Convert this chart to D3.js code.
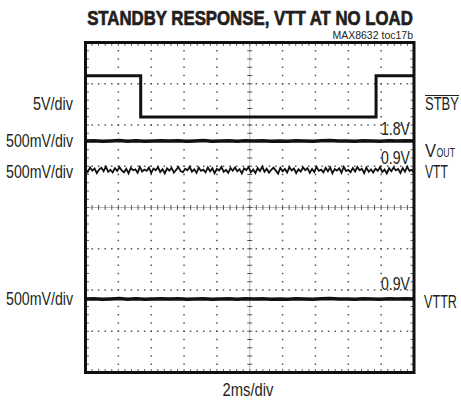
<!DOCTYPE html>
<html><head><meta charset="utf-8">
<script src="https://cdn.jsdelivr.net/npm/d3@7"></script>
<style>
html,body{margin:0;padding:0;background:#fff;}
svg{display:block;}
text{fill:#231f20;}
</style></head>
<body>
<script>
// ---- data ----
const title = "STANDBY RESPONSE, VTT AT NO LOAD";
const subtitle = "MAX8632 toc17b";
const timeDomainMs = [0, 20];          // 2ms/div, 10 divisions
const divDomain = [-4, 4];             // 8 vertical divisions
const leftLabels = ["5V/div", "500mV/div", "500mV/div", "500mV/div"];
const rightLabels = ["STBY", "VOUT", "VTT", "VTTR"];
const markerLabels = ["1.8V", "0.9V", "0.9V"];
const xLabel = "2ms/div";

// channel scale (V/div) and ground position (div from centre)
const chScale  = [5, 0.5, 0.5, 0.5];
const chGround = [2.194, -1.988, -0.891, -4.018];

// STBY (V)
const stbyT = [0, 3.36, 3.36, 17.69, 17.69, 20];
const stbyV = [5, 5, 0, 0, 5, 5];

// VOUT (V)
const voutV = [1.800,1.803,1.797,1.801,1.805,1.798,1.802,1.796,1.800,1.804,1.799,1.802,1.797,1.801,1.806,1.798,1.800,1.803,1.797,1.802,1.799,1.804,1.798,1.801,1.796,1.803,1.800,1.797,1.802,1.805,1.799,1.801,1.798,1.803,1.800,1.797,1.802,1.799,1.804,1.800];

// VTT (mV)
const vttMv = [912,875,931,892,918,862,905,927,885,940,878,903,870,922,888,935,895,872,914,860,926,897,909,867,938,882,906,890,929,864,917,898,933,876,911,858,920,893,925,869,902,936,886,874,915,896,939,880,908,865,928,889,904,871,932,884,921,861,913,894,937,877,901,866,924,891,930,883,910,859,919,899,934,873,907,863,923,887,941,879,916,868,903,928,892,856,926,885,912,870,935,895,918,862,909,881,931,898,922,865,914,876,938,890,905,872,927,884,933,860,911,893,920,867,939,888,902,874,925,882,936,896,915,863,929,878,908,869,917,891,934,875,906,858,921,886,930,897,913,864,924,880,940,889,901,871];

// VTTR (V)
const vttrV = [0.900,0.903,0.897,0.901,0.905,0.898,0.902,0.896,0.900,0.904,0.899,0.902,0.897,0.901,0.904,0.898,0.900,0.903,0.897,0.902,0.899,0.904,0.898,0.901,0.896,0.903,0.900,0.897,0.902,0.905,0.899,0.901,0.898,0.903,0.900,0.897,0.902,0.899,0.904,0.900];

// ---- layout ----
const W = 461, H = 414;
const L = 85.5, R = 414, T = 42.5, B = 372.5;
const svg = d3.select("body").append("svg").attr("width", W).attr("height", H);
const x = d3.scaleLinear().domain(timeDomainMs).range([L, R]);
const y = d3.scaleLinear().domain(divDomain).range([B, T]);
const chY = (ch, v) => y(chGround[ch] + v / chScale[ch]);

const SANS = "'Liberation Sans',Arial,Helvetica,sans-serif";
const FS = 18;

// condensed text helper: Liberation Sans scaled horizontally to a given width
function ntext(t, xx, yy, anchor, size, width, bold) {
  const el = svg.append("text").attr("x", 0).attr("y", 0).attr("text-anchor", anchor)
    .attr("font-family", SANS).attr("font-size", size).text(t);
  if (bold) el.attr("font-weight", "bold");
  const w = el.node().getComputedTextLength();
  el.attr("transform", `translate(${xx},${yy}) scale(${width / w},1)`);
  return el;
}

// title
ntext(title, 250, 25, "middle", 20, 326, true).attr("stroke", "#231f20").attr("stroke-width", 0.7);
svg.append("text").attr("x", 413).attr("y", 39).attr("text-anchor", "end")
  .attr("font-family", SANS).attr("font-size", 10.5).text(subtitle);

// grid
const g = svg.append("g");
const xMinor = d3.range(0, 50.001, 1).map(i => x(timeDomainMs[0] + i * 0.4));
const yMinor = d3.range(0, 40.001, 1).map(i => y(divDomain[0] + i * 0.2));
const xMajor = d3.range(1, 10).map(i => x(i * 2));
const yMajor = d3.range(-3, 4).filter(d => d !== 0).map(d => y(d));
const dotC = "#555";
yMajor.forEach(yy => xMinor.forEach(xx => g.append("rect").attr("x", xx - 0.75).attr("y", yy - 0.75).attr("width", 1.5).attr("height", 1.5).attr("fill", dotC)));
xMajor.filter((d, i) => i !== 4).forEach(xx => yMinor.forEach(yy => g.append("rect").attr("x", xx - 0.75).attr("y", yy - 0.75).attr("width", 1.5).attr("height", 1.5).attr("fill", dotC)));
// centre axes
const cx = x(10), cy = y(0);
g.append("line").attr("x1", L).attr("x2", R).attr("y1", cy).attr("y2", cy).attr("stroke", "#999").attr("stroke-width", 0.7);
g.append("line").attr("x1", cx).attr("x2", cx).attr("y1", T).attr("y2", B).attr("stroke", "#999").attr("stroke-width", 0.7);
xMinor.forEach(xx => g.append("line").attr("x1", xx).attr("x2", xx).attr("y1", cy - 2.5).attr("y2", cy + 2.5).attr("stroke", "#555").attr("stroke-width", 1));
yMinor.forEach(yy => g.append("line").attr("x1", cx - 2.5).attr("x2", cx + 2.5).attr("y1", yy).attr("y2", yy).attr("stroke", "#555").attr("stroke-width", 1));
// border ticks
xMinor.forEach(xx => {
  g.append("line").attr("x1", xx).attr("x2", xx).attr("y1", T).attr("y2", T + 3.5).attr("stroke", "#666");
  g.append("line").attr("x1", xx).attr("x2", xx).attr("y1", B - 3.5).attr("y2", B).attr("stroke", "#666");
});
yMinor.forEach(yy => {
  g.append("line").attr("x1", L).attr("x2", L + 3.5).attr("y1", yy).attr("y2", yy).attr("stroke", "#666");
  g.append("line").attr("x1", R - 3.5).attr("x2", R).attr("y1", yy).attr("y2", yy).attr("stroke", "#666");
});

// traces
const line = d3.line().x(d => d[0]).y(d => d[1]);
const tr = svg.append("g").attr("fill", "none").attr("stroke", "#111");
tr.append("path").attr("d", line(stbyT.map((t, i) => [x(t), chY(0, stbyV[i])]))).attr("stroke-width", 3);
tr.append("path").attr("d", line(voutV.map((v, i) => [x(i * 20 / (voutV.length - 1)), chY(1, v)]))).attr("stroke-width", 3.5);
tr.append("path").attr("d", line(vttMv.map((v, i) => [x(i * 20 / (vttMv.length - 1)), chY(2, v / 1000)]))).attr("stroke-width", 1.8);
tr.append("path").attr("d", line(vttrV.map((v, i) => [x(i * 20 / (vttrV.length - 1)), chY(3, v)]))).attr("stroke-width", 3.5);

// border
svg.append("rect").attr("x", L).attr("y", T).attr("width", R - L).attr("height", B - T)
  .attr("fill", "none").attr("stroke", "#111").attr("stroke-width", 3);

// labels
const leftY = [110, 147, 178, 305];
const leftW = [40, 67, 67, 67];
leftLabels.forEach((t, i) => ntext(t, 73, leftY[i], "end", FS, leftW[i]));
const markY = [135, 164, 290];
markerLabels.forEach((t, i) => ntext(t, 410, markY[i], "end", FS, 29));
// right labels
ntext(rightLabels[0], 425, 110, "start", FS, 34);
svg.append("line").attr("x1", 425).attr("x2", 459).attr("y1", 95.5).attr("y2", 95.5)
  .attr("stroke", "#231f20").attr("stroke-width", 1.2);
ntext(rightLabels[1].slice(0, 1), 425, 157, "start", FS, 11);
ntext(rightLabels[1].slice(1), 436.5, 157, "start", 12.5, 18.5);
ntext(rightLabels[2], 425, 178, "start", FS, 23);
ntext(rightLabels[3], 424, 308, "start", FS, 33);
ntext(xLabel, 248, 396, "middle", FS, 51);
</script>
</body></html>
